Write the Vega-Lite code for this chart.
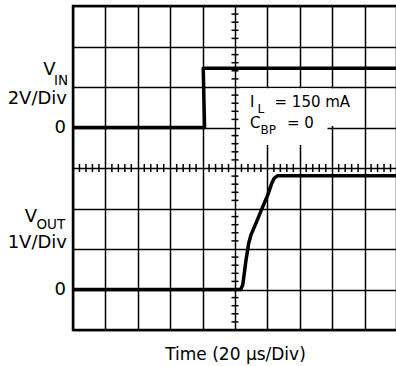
{
  "$schema": "https://vega.github.io/schema/vega-lite/v6.json",
  "width": 324,
  "height": 324,
  "autosize": {"type": "none"},
  "padding": {"left": 73, "top": 6, "right": 0, "bottom": 36},
  "background": "white",
  "config": {
    "view": {"stroke": "#000", "strokeWidth": 2.5},
    "font": "DejaVu Sans",
    "text": {"font": "DejaVu Sans", "color": "#000", "baseline": "alphabetic"}
  },
  "datasets": {
    "traces": [
      {"series": "VIN", "i": 1, "t": 0, "v": 5.0},
      {"series": "VIN", "i": 2, "t": 4.06, "v": 5.0},
      {"series": "VIN", "i": 3, "t": 4.02, "v": 6.46},
      {"series": "VIN", "i": 4, "t": 10, "v": 6.46},
      {"series": "VOUT", "i": 1, "t": 0, "v": 1.0},
      {"series": "VOUT", "i": 2, "t": 5.16, "v": 1.0},
      {"series": "VOUT", "i": 3, "t": 5.185, "v": 1.02},
      {"series": "VOUT", "i": 4, "t": 5.238, "v": 1.11},
      {"series": "VOUT", "i": 5, "t": 5.287, "v": 1.4},
      {"series": "VOUT", "i": 6, "t": 5.34, "v": 1.73},
      {"series": "VOUT", "i": 7, "t": 5.423, "v": 2.14},
      {"series": "VOUT", "i": 8, "t": 5.494, "v": 2.35},
      {"series": "VOUT", "i": 9, "t": 5.648, "v": 2.64},
      {"series": "VOUT", "i": 10, "t": 5.855, "v": 3.04},
      {"series": "VOUT", "i": 11, "t": 6.009, "v": 3.33},
      {"series": "VOUT", "i": 12, "t": 6.142, "v": 3.64},
      {"series": "VOUT", "i": 13, "t": 6.213, "v": 3.75},
      {"series": "VOUT", "i": 14, "t": 6.318, "v": 3.81},
      {"series": "VOUT", "i": 15, "t": 10, "v": 3.81}
    ],
    "xticks": [
      {"t": 0.2}, {"t": 0.4}, {"t": 0.6}, {"t": 0.8},
      {"t": 1.2}, {"t": 1.4}, {"t": 1.6}, {"t": 1.8},
      {"t": 2.2}, {"t": 2.4}, {"t": 2.6}, {"t": 2.8},
      {"t": 3.2}, {"t": 3.4}, {"t": 3.6}, {"t": 3.8},
      {"t": 4.2}, {"t": 4.4}, {"t": 4.6}, {"t": 4.8},
      {"t": 5.2}, {"t": 5.4}, {"t": 5.6}, {"t": 5.8},
      {"t": 6.2}, {"t": 6.4}, {"t": 6.6}, {"t": 6.8},
      {"t": 7.2}, {"t": 7.4}, {"t": 7.6}, {"t": 7.8},
      {"t": 8.2}, {"t": 8.4}, {"t": 8.6}, {"t": 8.8},
      {"t": 9.2}, {"t": 9.4}, {"t": 9.6}, {"t": 9.8}
    ],
    "yticks": [
      {"v": 0.2}, {"v": 0.4}, {"v": 0.6}, {"v": 0.8},
      {"v": 1.2}, {"v": 1.4}, {"v": 1.6}, {"v": 1.8},
      {"v": 2.2}, {"v": 2.4}, {"v": 2.6}, {"v": 2.8},
      {"v": 3.2}, {"v": 3.4}, {"v": 3.6}, {"v": 3.8},
      {"v": 4.2}, {"v": 4.4}, {"v": 4.6}, {"v": 4.8},
      {"v": 5.2}, {"v": 5.4}, {"v": 5.6}, {"v": 5.8},
      {"v": 6.2}, {"v": 6.4}, {"v": 6.6}, {"v": 6.8},
      {"v": 7.2}, {"v": 7.4}, {"v": 7.6}, {"v": 7.8}
    ],
    "bigRight": [
      {"label": "V", "t": -0.54, "v": 6.296},
      {"label": "2V/Div", "t": -0.185, "v": 5.568},
      {"label": "0", "t": -0.216, "v": 4.852},
      {"label": "V", "t": -1.111, "v": 2.667},
      {"label": "1V/Div", "t": -0.185, "v": 2.025},
      {"label": "0", "t": -0.216, "v": 0.852}
    ],
    "subLeft": [
      {"label": "IN", "t": -0.586, "v": 6.05},
      {"label": "OUT", "t": -1.127, "v": 2.494}
    ],
    "note": [
      {"label": "I", "t": 5.463, "v": 5.506},
      {"label": "= 150 mA", "t": 6.22, "v": 5.506},
      {"label": "C", "t": 5.463, "v": 4.988},
      {"label": "= 0", "t": 6.605, "v": 4.988}
    ],
    "noteSub": [
      {"label": "L", "t": 5.694, "v": 5.346},
      {"label": "BP", "t": 5.787, "v": 4.84}
    ]
  },
  "encoding": {
    "x": {
      "type": "quantitative",
      "scale": {"domain": [0, 10], "nice": false, "zero": false},
      "axis": {
        "values": [0, 1, 2, 3, 4, 5, 6, 7, 8, 9, 10],
        "grid": true, "gridColor": "#000", "gridWidth": 1.5,
        "labels": false, "ticks": false, "domain": false,
        "title": "Time (20 μs/Div)",
        "titleFont": "DejaVu Sans", "titleFontSize": 17, "titleFontWeight": "normal",
        "titleColor": "#000", "titlePadding": 16
      }
    },
    "y": {
      "type": "quantitative",
      "scale": {"domain": [0, 8], "nice": false, "zero": false},
      "axis": {
        "values": [0, 1, 2, 3, 4, 5, 6, 7, 8],
        "grid": true, "gridColor": "#000", "gridWidth": 1.5,
        "labels": false, "ticks": false, "domain": false, "title": null
      }
    }
  },
  "layer": [
    {
      "data": {"values": [{}]},
      "mark": {"type": "rect", "fill": "white", "stroke": null},
      "encoding": {
        "x": {"datum": 5.154, "type": "quantitative"},
        "x2": {"datum": 8.056},
        "y": {"datum": 5.037, "type": "quantitative"},
        "y2": {"datum": 5.963}
      }
    },
    {
      "data": {"values": [{}]},
      "mark": {"type": "rect", "fill": "white", "stroke": null},
      "encoding": {
        "x": {"datum": 5.154, "type": "quantitative"},
        "x2": {"datum": 7.855},
        "y": {"datum": 4.568, "type": "quantitative"},
        "y2": {"datum": 5.963}
      }
    },
    {
      "data": {"name": "xticks"},
      "mark": {"type": "rule", "color": "#000", "strokeWidth": 1.5},
      "encoding": {
        "x": {"field": "t", "type": "quantitative"},
        "y": {"datum": 3.9, "type": "quantitative"},
        "y2": {"datum": 4.1}
      }
    },
    {
      "data": {"name": "yticks"},
      "mark": {"type": "rule", "color": "#000", "strokeWidth": 1.5},
      "encoding": {
        "y": {"field": "v", "type": "quantitative"},
        "x": {"datum": 4.892, "type": "quantitative"},
        "x2": {"datum": 5.108}
      }
    },
    {
      "data": {"name": "traces"},
      "mark": {"type": "line", "color": "#000", "strokeWidth": 3.5, "strokeJoin": "round", "clip": true},
      "encoding": {
        "x": {"field": "t", "type": "quantitative"},
        "y": {"field": "v", "type": "quantitative"},
        "detail": {"field": "series"},
        "order": {"field": "i", "type": "quantitative"}
      }
    },
    {
      "data": {"name": "bigRight"},
      "mark": {"type": "text", "fontSize": 18, "align": "right", "baseline": "alphabetic"},
      "encoding": {
        "x": {"field": "t", "type": "quantitative"},
        "y": {"field": "v", "type": "quantitative"},
        "text": {"field": "label"}
      }
    },
    {
      "data": {"name": "subLeft"},
      "mark": {"type": "text", "fontSize": 13.5, "align": "left", "baseline": "alphabetic"},
      "encoding": {
        "x": {"field": "t", "type": "quantitative"},
        "y": {"field": "v", "type": "quantitative"},
        "text": {"field": "label"}
      }
    },
    {
      "data": {"name": "note"},
      "mark": {"type": "text", "fontSize": 15, "align": "left", "baseline": "alphabetic"},
      "encoding": {
        "x": {"field": "t", "type": "quantitative"},
        "y": {"field": "v", "type": "quantitative"},
        "text": {"field": "label"}
      }
    },
    {
      "data": {"name": "noteSub"},
      "mark": {"type": "text", "fontSize": 12, "align": "left", "baseline": "alphabetic"},
      "encoding": {
        "x": {"field": "t", "type": "quantitative"},
        "y": {"field": "v", "type": "quantitative"},
        "text": {"field": "label"}
      }
    }
  ]
}
